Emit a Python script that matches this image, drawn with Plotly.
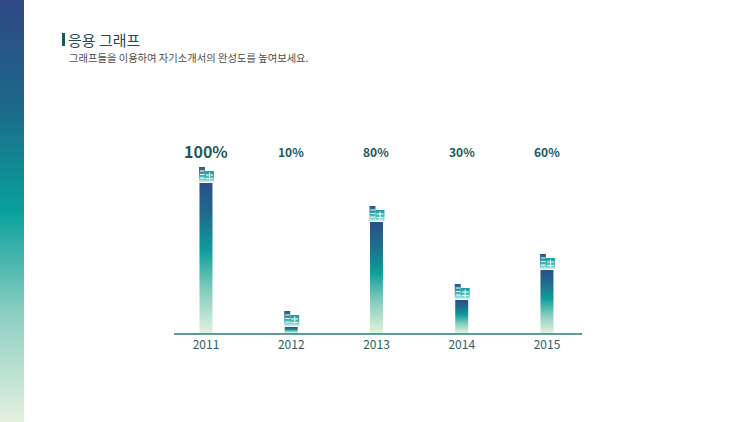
import plotly.graph_objects as go

# ---- data ----
years = ["2011", "2012", "2013", "2014", "2015"]
bar_values = [100, 4, 74, 22, 42]          # visual bar heights
pct_labels = ["100%", "10%", "80%", "30%", "60%"]
title_text = "응용 그래프"
subtitle_text = "그래프들을 이용하여 자기소개서의 완성도를 높여보세요."

W, H = 750, 422
FONT_KR = "Noto Sans CJK KR"

# pixel geometry helpers
x_dom = [174 / W, 582 / W]
x_rng = [-0.375, 4.411]
px_per_x = (582 - 174) / (x_rng[1] - x_rng[0])
y0_px = 333
y_dom = [(H - y0_px) / H, 1.0]
px_per_y = 1.5
y_rng = [0, y0_px / px_per_y]

def dx(px):
    return px / px_per_x

def dy(px):
    return px / px_per_y

bar_scale = [[0, "#e2f2dc"], [0.3, "#7fcabd"], [0.55, "#0d9d9a"], [0.8, "#1f6a8c"], [1, "#2a4f88"]]
strip_scale = [[0, "#e3f1dd"], [0.25, "#8fd0c2"], [0.5, "#0aa09c"], [0.75, "#1d6889"], [1, "#2f4886"]]

fig = go.Figure()

# left decorative gradient strip on its own axes
fig.add_trace(go.Scatter(
    x=[0, 1, 1, 0, 0], y=[0, 0, 1, 1, 0], xaxis="x2", yaxis="y2",
    mode="lines", line=dict(width=0), fill="toself",
    fillgradient=dict(type="vertical", colorscale=strip_scale),
    hoverinfo="skip", showlegend=False))

shapes = []
hw = dx(6.5)
for i, v in enumerate(bar_values):
    # bar
    fig.add_trace(go.Scatter(
        x=[i - hw, i + hw, i + hw, i - hw, i - hw], y=[0, 0, v, v, 0],
        mode="lines", line=dict(width=0), fill="toself",
        fillgradient=dict(type="vertical", colorscale=bar_scale),
        hoverinfo="skip", showlegend=False))
    # building icon on top of bar
    base = v + dy(1)
    lx0, lx1 = i - dx(7), i - dx(1)
    rx0, rx1 = i - dx(1), i + dx(8)
    ltop, rtop = base + dy(15), base + dy(11)
    fig.add_trace(go.Scatter(
        x=[lx0, lx1, lx1, lx0, lx0], y=[base, base, ltop, ltop, base],
        mode="lines", line=dict(width=0), fill="toself",
        fillgradient=dict(type="vertical", colorscale=[[0, "#c8f0ea"], [0.35, "#3fb8b4"], [1, "#2a5088"]]),
        hoverinfo="skip", showlegend=False))
    fig.add_trace(go.Scatter(
        x=[rx0, rx1, rx1, rx0, rx0], y=[base, base, rtop, rtop, base],
        mode="lines", line=dict(width=0), fill="toself",
        fillgradient=dict(type="vertical", colorscale=[[0, "#d8f5f0"], [0.3, "#52c4be"], [1, "#139c9c"]]),
        hoverinfo="skip", showlegend=False))
    for k in (4, 7.5, 11):
        shapes.append(dict(type="line", xref="x", yref="y", x0=lx0 + dx(1), x1=lx1 - dx(0.5),
                           y0=base + dy(k), y1=base + dy(k), line=dict(color="white", width=1)))
    for k in (3.5, 7):
        shapes.append(dict(type="line", xref="x", yref="y", x0=rx0 + dx(1), x1=rx1 - dx(1),
                           y0=base + dy(k), y1=base + dy(k), line=dict(color="white", width=1)))
    shapes.append(dict(type="line", xref="x", yref="y", x0=(rx0 + rx1) / 2, x1=(rx0 + rx1) / 2,
                       y0=base + dy(1.5), y1=rtop - dy(1.5), line=dict(color="white", width=1)))

# title marker bar
shapes.append(dict(type="rect", xref="paper", yref="paper", x0=62 / W, x1=65 / W,
                   y0=1 - 46 / H, y1=1 - 33 / H, fillcolor="#1b5a55", line=dict(width=0)))

annotations = []
for i, lab in enumerate(pct_labels):
    annotations.append(dict(x=i, y=dy(y0_px - 151), xref="x", yref="y", text="<b>%s</b>" % lab,
                            showarrow=False, xanchor="center", yanchor="middle",
                            font=dict(family=FONT_KR, size=16 if i == 0 else 12, color="#1b5a5c")))
annotations.append(dict(x=66 / W, y=1 - 40 / H, xref="paper", yref="paper", text=title_text,
                        showarrow=False, xanchor="left", yanchor="middle",
                        font=dict(family=FONT_KR, size=15, color="#1d4e55")))
annotations.append(dict(x=67 / W, y=1 - 57 / H, xref="paper", yref="paper", text=subtitle_text,
                        showarrow=False, xanchor="left", yanchor="middle",
                        font=dict(family=FONT_KR, size=10.3, color="#4d4d4d")))

fig.update_layout(
    width=W, height=H, margin=dict(l=0, r=0, t=0, b=0),
    paper_bgcolor="white", plot_bgcolor="white",
    xaxis=dict(domain=x_dom, range=x_rng, tickvals=list(range(len(years))), ticktext=years,
               showgrid=False, zeroline=False, showline=True, linecolor="#5e9c9c", linewidth=1.5,
               ticks="", tickfont=dict(family=FONT_KR, size=12, color="#2d5d63"), fixedrange=True),
    yaxis=dict(domain=y_dom, range=y_rng, visible=False, fixedrange=True),
    xaxis2=dict(domain=[0, 24 / W], range=[0, 1], visible=False, fixedrange=True),
    yaxis2=dict(domain=[0, 1], range=[0, 1], visible=False, anchor="x2", fixedrange=True),
    shapes=shapes, annotations=annotations, showlegend=False,
)

fig.write_html("out.html", config=dict(displayModeBar=False),
               post_script="document.body.style.margin='0';document.body.style.overflow='hidden';")
